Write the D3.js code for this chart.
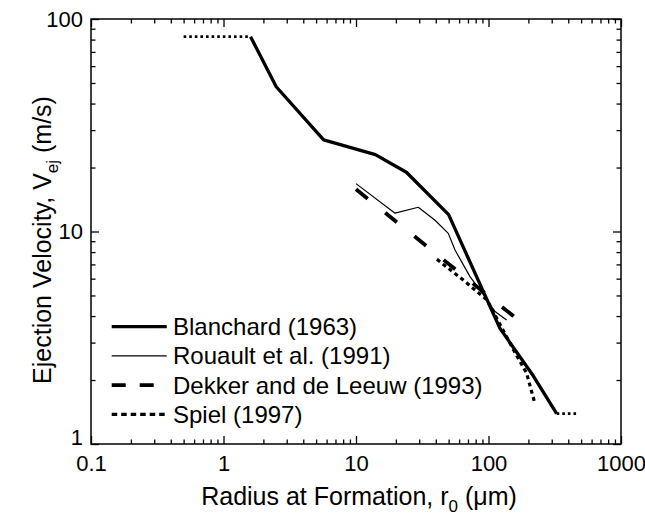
<!DOCTYPE html>
<html>
<head>
<meta charset="utf-8">
<script src="https://cdn.jsdelivr.net/npm/d3@7/dist/d3.min.js"></script>
<style>
  html, body { margin: 0; padding: 0; background: #fff; }
  svg { display: block; font-family: "Liberation Sans", Arial, Helvetica, sans-serif; }
</style>
</head>
<body>
<svg id="chart" width="645" height="521"></svg>
<script>
// Ejection velocity of jet drops vs. radius at formation (log-log)

// Blanchard (1963) — solid curve plus dotted extrapolations at both ends
const blanchardR = [1.6, 2.5, 5.7, 14, 24, 50, 122, 217, 327];
const blanchardV = [82.6, 48, 27, 23, 19, 12, 3.5, 2.1, 1.39];
const blanchardLowR = [0.5, 1.6];
const blanchardLowV = [82.6, 82.6];
const blanchardHighR = [327, 463];
const blanchardHighV = [1.39, 1.39];

// Rouault et al. (1991)
const rouaultR = [10, 19.7, 29.5, 39.5, 49.7, 55.9, 72.5, 94.1, 112, 137];
const rouaultV = [16.8, 12.2, 13.0, 11.3, 9.8, 8.18, 6.13, 4.93, 4.2, 3.83];

// Dekker and de Leeuw (1993)
const dekkerR = [10, 158];
const dekkerV = [15.8, 3.95];

// Spiel (1997)
const spielR = [40.8, 64.5, 97.5, 150, 194, 224];
const spielV = [7.4, 5.91, 4.76, 2.87, 2.15, 1.55];

// Axis ticks
const xMajor = [0.1, 1, 10, 100, 1000];
const xMajorLabels = ["0.1", "1", "10", "100", "1000"];
const yMajor = [1, 10, 100];
const yMajorLabels = ["1", "10", "100"];

const legendNames = ["Blanchard (1963)", "Rouault et al. (1991)", "Dekker and de Leeuw (1993)", "Spiel (1997)"];

const svg = d3.select("#chart");
const plotL = 91, plotR = 621, plotT = 19, plotB = 444;

const x = d3.scaleLog().domain([0.1, 1000]).range([plotL, plotR]);
const y = d3.scaleLog().domain([1, 100]).range([plotB, plotT]);

function minors(lo, hi) {
  const out = [];
  for (let d = lo; d < hi; d *= 10)
    for (let k = 2; k <= 9; k++) out.push(d * k);
  return out;
}
const xMinor = minors(0.1, 1000);
const yMinor = minors(1, 100);

const majorLen = 8, minorLen = 4.5;
const fontTick = 22;

// bottom axis with labels
const gB = svg.append("g").attr("transform", `translate(0,${plotB})`);
gB.call(d3.axisBottom(x).tickValues(xMajor).tickSize(-majorLen).tickPadding(11)
  .tickFormat((d, i) => xMajorLabels[i]));
gB.append("g").call(d3.axisBottom(x).tickValues(xMinor).tickSize(-minorLen).tickFormat(""));
// top axis (ticks only)
const gT = svg.append("g").attr("transform", `translate(0,${plotT})`);
gT.call(d3.axisTop(x).tickValues(xMajor).tickSize(-majorLen).tickFormat(""));
gT.append("g").call(d3.axisTop(x).tickValues(xMinor).tickSize(-minorLen).tickFormat(""));
// left axis with labels
const gL = svg.append("g").attr("transform", `translate(${plotL},0)`);
gL.call(d3.axisLeft(y).tickValues(yMajor).tickSize(-majorLen).tickPadding(8)
  .tickFormat((d, i) => yMajorLabels[i]));
gL.append("g").call(d3.axisLeft(y).tickValues(yMinor).tickSize(-minorLen).tickFormat(""));
// right axis (ticks only)
const gR = svg.append("g").attr("transform", `translate(${plotR},0)`);
gR.call(d3.axisRight(y).tickValues(yMajor).tickSize(-majorLen).tickFormat(""));
gR.append("g").call(d3.axisRight(y).tickValues(yMinor).tickSize(-minorLen).tickFormat(""));

svg.selectAll(".domain").remove();
svg.selectAll(".tick line").attr("stroke", "#000").attr("stroke-width", 1.3);
svg.selectAll(".tick text").attr("font-size", fontTick).attr("fill", "#000")
  .attr("font-family", "Liberation Sans, Arial, sans-serif");
// the "1" on the y axis sits just above the x-axis labels
gL.selectAll(".tick text").filter(d => d === 1).attr("dy", "0em");

// frame
svg.append("rect").attr("x", plotL).attr("y", plotT)
  .attr("width", plotR - plotL).attr("height", plotB - plotT)
  .attr("fill", "none").attr("stroke", "#000").attr("stroke-width", 1.5);

const line = d3.line().x(d => x(d[0])).y(d => y(d[1]));
const zip = (a, b) => a.map((v, i) => [v, b[i]]);

const styles = {
  blanchard: { w: 3.3, dash: null },
  rouault: { w: 1.2, dash: null },
  dekker: { w: 3.8, dash: "15,22.5" },
  spiel: { w: 3.2, dash: "4,3.5" },
  extrap: { w: 2.6, dash: "2.6,3" }
};

function draw(rs, vs, st) {
  svg.append("path").datum(zip(rs, vs)).attr("d", line)
    .attr("fill", "none").attr("stroke", "#000")
    .attr("stroke-width", st.w).attr("stroke-linejoin", "round")
    .attr("stroke-dasharray", st.dash);
}

draw(blanchardLowR, blanchardLowV, styles.extrap);
draw(blanchardHighR, blanchardHighV, styles.extrap);
draw(blanchardR, blanchardV, styles.blanchard);
draw(rouaultR, rouaultV, styles.rouault);
draw(dekkerR, dekkerV, styles.dekker);
draw(spielR, spielV, styles.spiel);

// legend
const legStyles = [
  { w: 3.3, dash: null },
  { w: 1.2, dash: null },
  { w: 3.8, dash: "14,14" },
  { w: 3.2, dash: "5.5,4" }
];
const legX0 = 111.7, legX1 = 166.7, legY0 = 326.7, legDy = 29.2;
const leg = svg.append("g");
legendNames.forEach((name, i) => {
  const yy = legY0 + i * legDy;
  leg.append("line").attr("x1", legX0).attr("x2", legX1).attr("y1", yy).attr("y2", yy)
    .attr("stroke", "#000").attr("stroke-width", legStyles[i].w)
    .attr("stroke-dasharray", legStyles[i].dash);
  leg.append("text").attr("x", 173).attr("y", yy + 8.5)
    .attr("font-size", 24).attr("fill", "#000").text(name);
});

// axis titles
const xt = svg.append("text").attr("x", 359).attr("y", 505)
  .attr("text-anchor", "middle").attr("font-size", 25).attr("fill", "#000");
xt.append("tspan").text("Radius at Formation, r");
xt.append("tspan").attr("font-size", 17).attr("dy", 7).text("0");
xt.append("tspan").attr("dy", -7).text(" (\u03bcm)");

const yt = svg.append("text").attr("transform", "translate(51,240) rotate(-90)")
  .attr("text-anchor", "middle").attr("font-size", 25).attr("fill", "#000");
yt.append("tspan").text("Ejection Velocity, V");
yt.append("tspan").attr("font-size", 17).attr("dy", 7).text("ej");
yt.append("tspan").attr("dy", -7).text(" (m/s)");
</script>
</body>
</html>
